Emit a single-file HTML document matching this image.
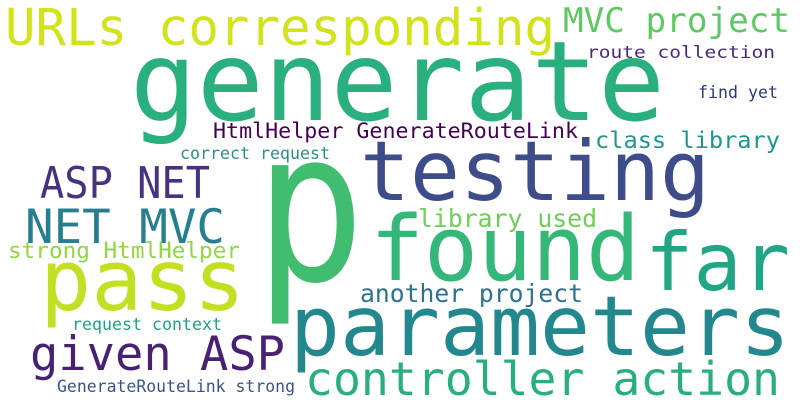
<!DOCTYPE html>
<html><head><meta charset="utf-8"><style>
html,body{margin:0;padding:0;background:#fff;}
svg{display:block;}
text{font-family:"DejaVu Sans Mono","Liberation Mono",monospace;}
</style></head><body>
<svg width="800" height="400">
<rect width="800" height="400" fill="#fff"/>
<text x="255" y="280" font-size="210" fill="#40bd6f" textLength="110" lengthAdjust="spacingAndGlyphs">p</text>
<text x="130" y="120" font-size="111" fill="#2aaf7f" textLength="535" lengthAdjust="spacingAndGlyphs">generate</text>
<text x="5" y="45" font-size="51" fill="#d2e21b" textLength="550" lengthAdjust="spacingAndGlyphs">URLs corresponding</text>
<text x="563" y="32" font-size="34" fill="#5ec962" textLength="227" lengthAdjust="spacingAndGlyphs">MVC project</text>
<text x="360" y="200" font-size="83" fill="#3e4c8a" textLength="350" lengthAdjust="spacingAndGlyphs">testing</text>
<text x="40" y="198" font-size="44" fill="#46327e" textLength="170" lengthAdjust="spacingAndGlyphs">ASP NET</text>
<text x="25" y="243" font-size="47" fill="#277f8e" textLength="200" lengthAdjust="spacingAndGlyphs">NET MVC</text>
<text x="370" y="280" font-size="90" fill="#35b779" textLength="270" lengthAdjust="spacingAndGlyphs">found</text>
<text x="645" y="290" font-size="80" fill="#21a685" textLength="145" lengthAdjust="spacingAndGlyphs">far</text>
<text x="40" y="310" font-size="85" fill="#c2df23" textLength="205" lengthAdjust="spacingAndGlyphs">pass</text>
<text x="290" y="355" font-size="83" fill="#23888e" textLength="500" lengthAdjust="spacingAndGlyphs">parameters</text>
<text x="30" y="370" font-size="47" fill="#482173" textLength="255" lengthAdjust="spacingAndGlyphs">given ASP</text>
<text x="305" y="395" font-size="46" fill="#29af7f" textLength="475" lengthAdjust="spacingAndGlyphs">controller action</text>
<text x="213" y="138" font-size="21.5" fill="#440154" textLength="365" lengthAdjust="spacingAndGlyphs">HtmlHelper GenerateRouteLink</text>
<text x="595" y="148" font-size="23.5" fill="#1f968b" textLength="185" lengthAdjust="spacingAndGlyphs">class library</text>
<text x="587" y="58" font-size="17" fill="#482878" textLength="188" lengthAdjust="spacingAndGlyphs">route collection</text>
<text x="698" y="98" font-size="16.5" fill="#2c3a7a" textLength="80" lengthAdjust="spacingAndGlyphs">find yet</text>
<text x="180" y="159" font-size="16.5" fill="#2c8e8c" textLength="150" lengthAdjust="spacingAndGlyphs">correct request</text>
<text x="418" y="227" font-size="25" fill="#6ece58" textLength="179" lengthAdjust="spacingAndGlyphs">library used</text>
<text x="8" y="258" font-size="22.5" fill="#8fd744" textLength="232" lengthAdjust="spacingAndGlyphs">strong HtmlHelper</text>
<text x="360" y="302" font-size="24.5" fill="#2d718e" textLength="223" lengthAdjust="spacingAndGlyphs">another project</text>
<text x="72" y="330" font-size="16.5" fill="#1fa187" textLength="150" lengthAdjust="spacingAndGlyphs">request context</text>
<text x="57" y="392" font-size="16.5" fill="#3b528b" textLength="238" lengthAdjust="spacingAndGlyphs">GenerateRouteLink strong</text>
</svg>
</body></html>
